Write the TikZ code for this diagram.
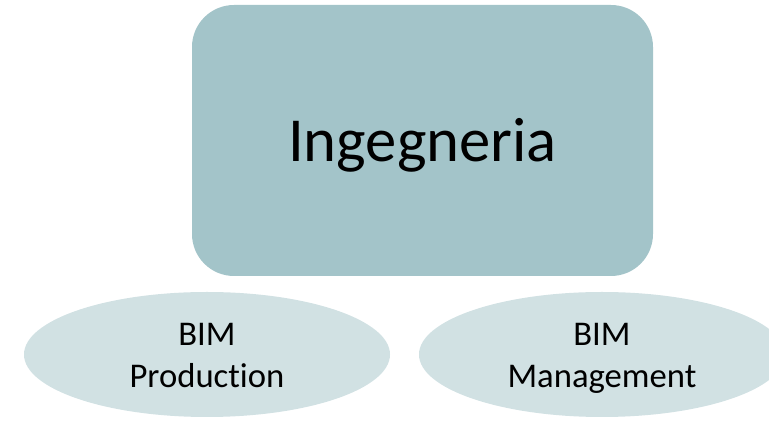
\documentclass[tikz,border=0pt]{standalone}
\usepackage{fontspec}
\setmainfont{Carlito}[Ligatures=NoCommon]
\usetikzlibrary{shapes.geometric}
\definecolor{topfill}{HTML}{A3C4C9}
\definecolor{ovalfill}{HTML}{D1E1E3}
\tikzset{
  topbox/.style={rectangle, rounded corners=31.5pt, fill=topfill, minimum width=345.75pt, minimum height=203.25pt, inner sep=0pt, text height=32.25pt, text depth=0pt, font=\fontsize{47}{56}\selectfont},
  oval/.style={ellipse, fill=ovalfill, minimum width=274.5pt, minimum height=93.75pt, inner sep=0pt, align=center, text height=50.25pt, text depth=0pt, font=\fontsize{26}{31.5}\selectfont}
}
\begin{document}
\begin{tikzpicture}[x=0.75pt,y=-0.75pt]
\useasboundingbox (0,0) rectangle (769,423);
\node[topbox] (ing) at (422.5,140.5) {Ingegneria};
\node[oval] (prod) at (207,354.5) {BIM\\Production};
\node[oval] (mgmt) at (602,354.5) {BIM\\Management};
\end{tikzpicture}
\end{document}
